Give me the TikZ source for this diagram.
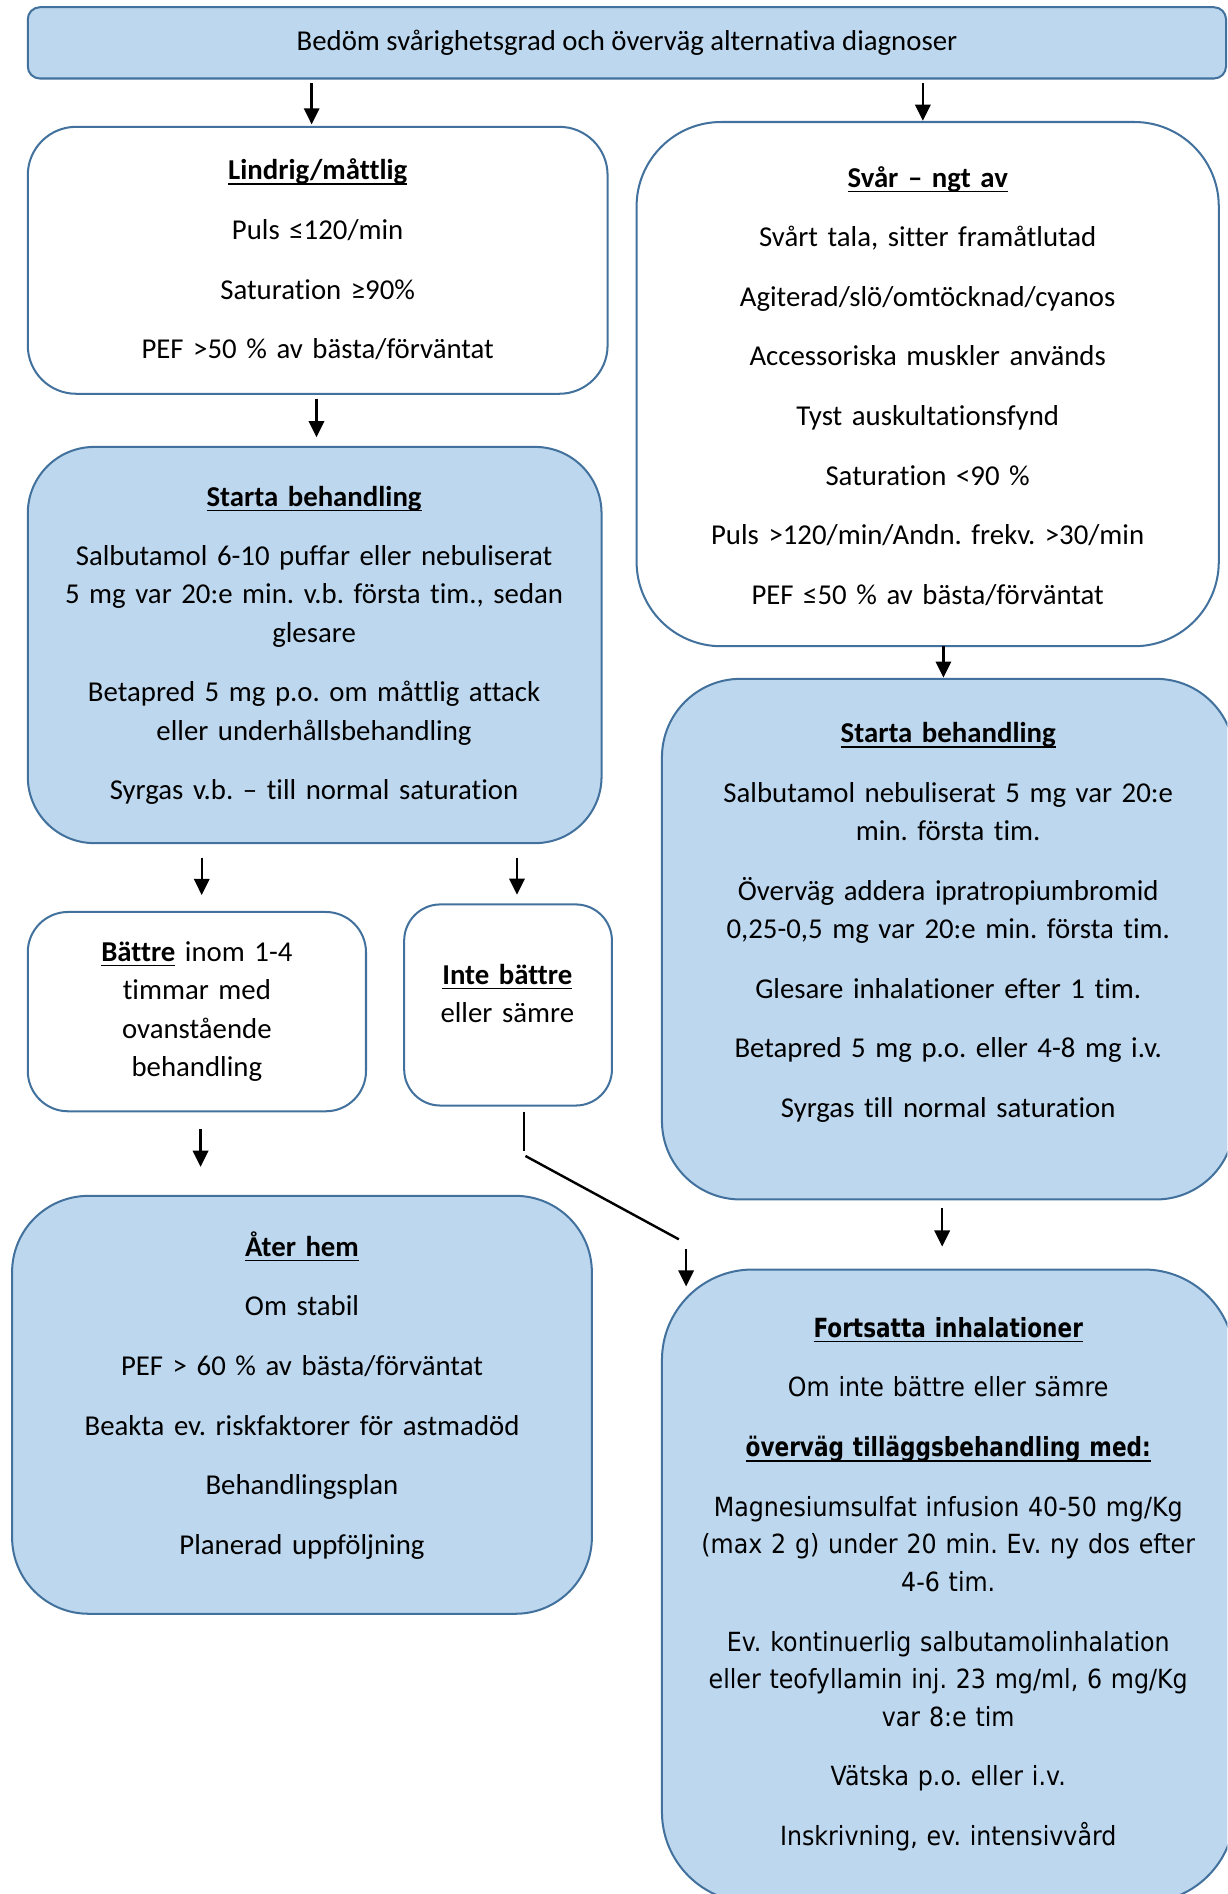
\documentclass[tikz,border=0pt]{standalone}
\usepackage{fontspec}
\setmainfont{Carlito}[Ligatures={TeX,NoCommon}]
\newfontfamily\tahfont[FakeStretch=0.9, Ligatures={TeX,NoCommon}, BoldFeatures={FakeStretch=0.82}]{DejaVu Sans}
\usetikzlibrary{arrows.meta}
\definecolor{boxfill}{HTML}{BDD7EE}
\definecolor{boxline}{HTML}{41719C}
\newsavebox\ulbox
\newcommand\ulx[1]{\leavevmode\sbox\ulbox{#1}\rlap{\rule[-2.4pt]{\wd\ulbox}{0.7pt}}\usebox\ulbox}
\tikzset{
  flowbox/.style={draw=boxline, line width=1pt, rounded corners=#1, inner sep=0pt, outer sep=0pt},
  txt/.style={anchor=base, align=center, text width=300pt, inner sep=0pt, font=\fontsize{14.3}{19}\selectfont},
  ttxt/.style={anchor=base, align=center, text width=300pt, inner sep=0pt, font=\tahfont\fontsize{13.1}{18.6}\selectfont},
  arr/.style={-{Triangle[length=8pt,width=7.6pt]}, line width=1.2pt},
  ln/.style={line width=1.2pt}
}
\begin{document}
\frenchspacing
\begin{tikzpicture}[x=0.6pt,y=-0.6pt]
\useasboundingbox (0,0) rectangle (1016,1568);
\clip (0,0) rectangle (1016,1568);
% boxes
\node[flowbox=6pt, fill=boxfill, minimum width=595.2pt, minimum height=35.4pt] (top) at (519,35.5) {};
\node[flowbox=24pt, fill=white, minimum width=288pt, minimum height=132.6pt] (lind) at (263,215.5) {};
\node[flowbox=42pt, fill=white, minimum width=289.2pt, minimum height=260.4pt] (svar) at (768,318) {};
\node[flowbox=33pt, fill=boxfill, minimum width=285pt, minimum height=196.8pt] (lstart) at (260.5,534) {};
\node[flowbox=39pt, fill=boxfill, minimum width=284.4pt, minimum height=258.6pt] (rstart) at (785,777.5) {};
\node[flowbox=20pt, fill=white, minimum width=168pt, minimum height=99pt] (battre) at (163,837.5) {};
\node[flowbox=18pt, fill=white, minimum width=103.2pt, minimum height=99.9pt] (inte) at (420.6,832) {};
\node[flowbox=38pt, fill=boxfill, minimum width=288pt, minimum height=207.6pt] (ater) at (250,1163) {};
\node[flowbox=45pt, fill=boxfill, minimum width=284.4pt, minimum height=314.4pt] (fort) at (785,1313) {};
% texts
\node[anchor=base, inner sep=0pt, font=\fontsize{14.3}{19}\selectfont] (toptx) at (519,42) {Bedöm svårighetsgrad och överväg alternativa diagnoser};
\node[txt] (lindtx) at (263,149) {\ulx{\bfseries Lindrig/måttlig}\\[10.6pt]
  Puls ≤120/min\\[10.6pt]
  Saturation ≥90\%\\[10.6pt]
  PEF >50 \% av bästa/förväntat};
\node[txt] (svartx) at (768,155) {\ulx{\bfseries Svår – ngt av}\\[10.6pt]
  Svårt tala, sitter framåtlutad\\[10.6pt]
  Agiterad/slö/omtöcknad/cyanos\\[10.6pt]
  Accessoriska muskler används\\[10.6pt]
  Tyst auskultationsfynd\\[10.6pt]
  Saturation <90 \%\\[10.6pt]
  Puls >120/min/Andn. frekv. >30/min\\[10.6pt]
  PEF ≤50 \% av bästa/förväntat};
\node[txt] (lstarttx) at (260,419) {\ulx{\bfseries Starta behandling}\\[10.6pt]
  Salbutamol 6-10 puffar eller nebuliserat\\
  5 mg var 20:e min. v.b. första tim., sedan\\
  glesare\\[10.6pt]
  Betapred 5 mg p.o. om måttlig attack\\
  eller underhållsbehandling\\[10.6pt]
  Syrgas v.b. – till normal saturation};
\node[txt] (rstarttx) at (785,615) {\ulx{\bfseries Starta behandling}\\[10.6pt]
  Salbutamol nebuliserat 5 mg var 20:e\\
  min. första tim.\\[10.6pt]
  Överväg addera ipratropiumbromid\\
  0,25-0,5 mg var 20:e min. första tim.\\[10.6pt]
  Glesare inhalationer efter 1 tim.\\[10.6pt]
  Betapred 5 mg p.o. eller 4-8 mg i.v.\\[10.6pt]
  Syrgas till normal saturation};
\node[txt] (battretx) at (163,796) {\ulx{\bfseries Bättre} inom 1-4\\
  timmar med\\
  ovanstående\\
  behandling};
\node[txt] (intetx) at (420,815) {\ulx{\bfseries Inte bättre}\\
  eller sämre};
\node[txt] (atertx) at (250,1040) {\ulx{\bfseries Åter hem}\\[10.6pt]
  Om stabil\\[10.6pt]
  PEF > 60 \% av bästa/förväntat\\[10.6pt]
  Beakta ev. riskfaktorer för astmadöd\\[10.6pt]
  Behandlingsplan\\[10.6pt]
  Planerad uppföljning};
\node[ttxt] (forttx) at (785,1107) {\ulx{\bfseries Fortsatta inhalationer}\\[11.1pt]
  Om inte bättre eller sämre\\[11.1pt]
  \ulx{\bfseries överväg tilläggsbehandling med:}\\[11.1pt]
  Magnesiumsulfat infusion 40-50 mg/Kg\\
  (max 2 g) under 20 min. Ev. ny dos efter\\
  4-6 tim.\\[11.1pt]
  Ev. kontinuerlig salbutamolinhalation\\
  eller teofyllamin inj. 23 mg/ml, 6 mg/Kg\\
  var 8:e tim\\[11.1pt]
  Vätska p.o. eller i.v.\\[11.1pt]
  Inskrivning, ev. intensivvård};
% column coordinates
\coordinate (c258) at (258,0);
\coordinate (c764) at (764,0);
\coordinate (c262) at (262,0);
\coordinate (c781) at (781,0);
\coordinate (c167) at (167,0);
\coordinate (c428) at (428,0);
\coordinate (c166) at (166,0);
\coordinate (c780) at (780,0);
\coordinate (k1) at (434,953);
\coordinate (k2) at (435,957);
\coordinate (k3) at (562,1026);
\coordinate (k4) at (568,1034);
\coordinate (k5) at (568,1065);
% connectors
\draw[arr, shorten <=2.4pt, shorten >=1.2pt] (top.south -| c258) -- (lind.north -| c258);
\draw[arr, shorten <=2.4pt, shorten >=0.6pt] (top.south -| c764) -- (svar.north -| c764);
\draw[arr, shorten <=2.4pt, shorten >=4.8pt] (lind.south -| c262) -- (lstart.north -| c262);
\draw[arr, shorten >=0.6pt] (svar.south -| c781) -- (rstart.north -| c781);
\draw[arr, shorten <=7.2pt, shorten >=8.4pt] (lstart.south -| c167) -- (battre.north -| c167);
\draw[arr, shorten <=7.2pt, shorten >=4.8pt] (lstart.south -| c428) -- (inte.north -| c428);
\draw[arr, shorten <=9pt, shorten >=14.4pt] (battre.south -| c166) -- (ater.north -| c166);
\draw[arr, shorten <=4.2pt, shorten >=11.4pt] (rstart.south -| c780) -- (fort.north -| c780);
\draw[ln, shorten <=3pt] (inte.south -| k1) -- (k1);
\draw[ln] (k2) -- (k3);
\draw[arr] (k4) -- (k5);
\end{tikzpicture}
\end{document}
